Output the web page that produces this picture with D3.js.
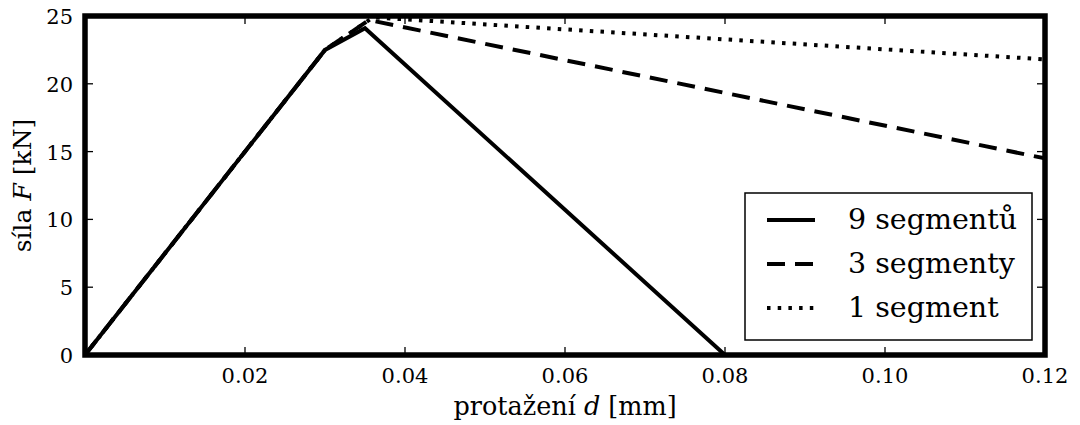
<!DOCTYPE html>
<html>
<head>
<meta charset="utf-8">
<script src="https://cdn.jsdelivr.net/npm/d3@7"></script>
<style>
  html, body { margin: 0; padding: 0; background: #fff; }
  svg { display: block; }
  text { font-family: "DejaVu Serif", serif; fill: #000; }
</style>
</head>
<body>
<svg id="chart" width="1080" height="425"></svg>
<script>
// Force–elongation curves for three discretisations
const series = ["9 segmentů", "3 segmenty", "1 segment"];
const elongation9 = [0, 0.030, 0.035, 0.080];
const force9      = [0, 22.5, 24.1, 0];
const elongation3 = [0, 0.030, 0.0355, 0.120];
const force3      = [0, 22.5, 24.7, 14.5];
const elongation1 = [0, 0.030, 0.036, 0.120];
const force1      = [0, 22.5, 24.9, 21.8];

const xTicks = [0.02, 0.04, 0.06, 0.08, 0.10, 0.12];
const xTickLabels = ["0.02", "0.04", "0.06", "0.08", "0.10", "0.12"];
const yTicks = [0, 5, 10, 15, 20, 25];
const yTickLabels = ["0", "5", "10", "15", "20", "25"];

const W = 1080, H = 425;
const margin = { left: 85, right: 35, top: 16, bottom: 70 };
const innerW = W - margin.left - margin.right;
const innerH = H - margin.top - margin.bottom;

const svg = d3.select("#chart");
const g = svg.append("g").attr("transform", `translate(${margin.left},${margin.top})`);

const x = d3.scaleLinear().domain([0, 0.12]).range([0, innerW]);
const y = d3.scaleLinear().domain([0, 25]).range([innerH, 0]);

svg.append("defs").append("clipPath").attr("id", "plotClip")
  .append("rect").attr("width", innerW).attr("height", innerH);

// ticks on all four sides, pointing inward
const tickLen = 8;
const ticks = g.append("g").attr("stroke", "#000").attr("stroke-width", 1.3);
xTicks.forEach(v => {
  ticks.append("line").attr("x1", x(v)).attr("x2", x(v)).attr("y1", innerH).attr("y2", innerH - tickLen);
  ticks.append("line").attr("x1", x(v)).attr("x2", x(v)).attr("y1", 0).attr("y2", tickLen);
});
yTicks.forEach(v => {
  ticks.append("line").attr("x1", 0).attr("x2", tickLen).attr("y1", y(v)).attr("y2", y(v));
  ticks.append("line").attr("x1", innerW).attr("x2", innerW - tickLen).attr("y1", y(v)).attr("y2", y(v));
});

// tick labels
g.append("g").selectAll("text").data(xTicks).join("text")
  .attr("x", d => x(d)).attr("y", innerH + 28)
  .attr("font-size", 21).attr("text-anchor", "middle")
  .text((d, i) => xTickLabels[i]);
g.append("g").selectAll("text").data(yTicks).join("text")
  .attr("x", -12).attr("y", d => y(d) + 8)
  .attr("font-size", 21).attr("text-anchor", "end")
  .text((d, i) => yTickLabels[i]);

// axis titles
const xt = g.append("text")
  .attr("x", innerW / 2).attr("y", innerH + 60)
  .attr("font-size", 25.5).attr("text-anchor", "middle");
xt.append("tspan").text("protažení ");
xt.append("tspan").attr("font-style", "italic").text("d");
xt.append("tspan").text(" [mm]");

const yt = g.append("text")
  .attr("transform", `translate(${-margin.left + 31},${innerH / 2}) rotate(-90)`)
  .attr("font-size", 25).attr("text-anchor", "middle");
yt.append("tspan").text("síla ");
yt.append("tspan").attr("font-style", "italic").text("F");
yt.append("tspan").text(" [kN]");

// curves
const styles = [
  { dash: null, w: 4 },
  { dash: "18,10", w: 4 },
  { dash: "3.5,7.2", w: 4 }
];
const data = [
  d3.zip(elongation9, force9),
  d3.zip(elongation3, force3),
  d3.zip(elongation1, force1)
];
const line = d3.line().x(d => x(d[0])).y(d => y(d[1]));
const curves = g.append("g").attr("clip-path", "url(#plotClip)");
data.forEach((pts, i) => {
  curves.append("path")
    .attr("d", line(pts))
    .attr("fill", "none")
    .attr("stroke", "#000")
    .attr("stroke-width", styles[i].w)
    .attr("stroke-linejoin", "miter")
    .attr("stroke-dasharray", styles[i].dash);
});

// frame
g.append("rect")
  .attr("width", innerW).attr("height", innerH)
  .attr("fill", "none").attr("stroke", "#000").attr("stroke-width", 5.5);

// legend
const lg = g.append("g").attr("transform", `translate(${660},${177})`);
lg.append("rect").attr("width", 287).attr("height", 147)
  .attr("fill", "#fff").attr("stroke", "#000").attr("stroke-width", 1.5);
series.forEach((name, i) => {
  const ry = 27 + i * 44;
  lg.append("line")
    .attr("x1", 22).attr("x2", 70).attr("y1", ry).attr("y2", ry)
    .attr("stroke", "#000").attr("stroke-width", styles[i].w)
    .attr("stroke-dasharray", styles[i].dash);
  lg.append("text")
    .attr("x", 103).attr("y", ry + 9)
    .attr("font-size", 28.5)
    .text(name);
});
</script>
</body>
</html>
